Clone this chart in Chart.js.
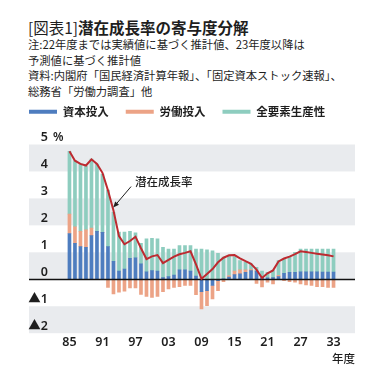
<!DOCTYPE html>
<html lang="ja">
<head>
<meta charset="utf-8">
<script src="https://cdn.jsdelivr.net/npm/chart.js@4.4.1/dist/chart.umd.min.js"></script>
<style>
  body { margin: 0; width: 383px; height: 378px; background: #fff; position: relative; overflow: hidden;
         font-family: "Noto Sans CJK JP", "Noto Sans", sans-serif; color: #1e1e1e; }
  #head { position: absolute; left: 28px; top: 17px; }
  h1 { margin: 0; font-size: 15.5px; line-height: 20px; font-weight: 700; }
  h1 span { font-weight: 400; }
  .note { font-size: 11.3px; line-height: 15.6px; }
  #wrap { position: absolute; left: 0; top: 83px; width: 383px; height: 295px; }
</style>
</head>
<body>
<div id="head">
  <h1><span>[図表1]</span>潜在成長率の寄与度分解</h1>
  <div class="note">注:22年度までは実績値に基づく推計値、23年度以降は<br>予測値に基づく推計値<br>資料:内閣府「国民経済計算年報」、「固定資本ストック速報」、<br>総務省「労働力調査」他</div>
</div>
<div id="wrap"><canvas id="chart"></canvas></div>
<script>
// 年度 (1985〜2033)
const years = [1985, 1986, 1987, 1988, 1989, 1990, 1991, 1992, 1993, 1994,
               1995, 1996, 1997, 1998, 1999, 2000, 2001, 2002, 2003, 2004,
               2005, 2006, 2007, 2008, 2009, 2010, 2011, 2012, 2013, 2014,
               2015, 2016, 2017, 2018, 2019, 2020, 2021, 2022, 2023, 2024,
               2025, 2026, 2027, 2028, 2029, 2030, 2031, 2032, 2033];

// 寄与度 (%)
const capital = [1.70, 1.33, 1.21, 1.19, 1.62, 1.78, 1.74, 1.21, 0.67, 0.30,
                 0.38, 0.78, 0.80, 0.57, 0.28, 0.32, 0.30, 0.06, 0.10, 0.16,
                 0.35, 0.35, 0.30, 0.12, -0.46, -0.42, -0.23, -0.05, 0.02, 0.08,
                 0.17, 0.20, 0.26, 0.32, 0.30, 0.05, 0.05, 0.06, 0.10, 0.22,
                 0.26, 0.26, 0.28, 0.28, 0.28, 0.28, 0.27, 0.27, 0.27];
const labor = [0.72, 0.62, 0.57, 0.64, 0.28, 0.00, 0.00, -0.30, -0.54, -0.48,
               -0.44, -0.32, -0.32, -0.56, -0.64, -0.67, -0.64, -0.46, -0.36, -0.30,
               -0.27, -0.23, -0.23, -0.57, -0.64, -0.56, -0.50, -0.37, -0.09, 0.06,
               0.13, 0.15, 0.09, 0.04, -0.15, -0.28, -0.11, -0.17, 0.05, -0.05,
               -0.09, -0.11, -0.17, -0.21, -0.23, -0.27, -0.27, -0.30, -0.30];
const tfp = [2.33, 2.45, 2.49, 2.37, 2.56, 2.49, 2.16, 2.10, 1.81, 1.45,
             1.37, 1.00, 0.92, 0.76, 1.22, 1.20, 1.20, 1.13, 1.02, 0.96,
             0.90, 0.90, 0.95, 1.00, 1.12, 1.09, 1.06, 0.96, 0.80, 0.74,
             0.54, 0.34, 0.28, 0.21, 0.14, 0.25, 0.21, 0.26, 0.54, 0.53,
             0.58, 0.74, 0.84, 0.84, 0.84, 0.84, 0.85, 0.85, 0.85];
// 潜在成長率 (%)
const potential = [4.75, 4.40, 4.28, 4.22, 4.45, 4.28, 3.95, 3.30, 2.55, 1.60,
                   1.30, 1.42, 1.58, 1.15, 0.75, 0.85, 0.90, 0.60, 0.72, 0.84,
                   0.93, 0.98, 1.04, 0.55, 0.02, 0.20, 0.38, 0.63, 0.80, 0.89,
                   0.90, 0.78, 0.67, 0.57, 0.36, 0.05, 0.22, 0.33, 0.66, 0.77,
                   0.84, 0.93, 1.04, 1.01, 0.98, 0.95, 0.92, 0.89, 0.85];

const xTicks = [1985, 1991, 1997, 2003, 2009, 2015, 2021, 2027, 2033];
const yTicks = [5, 4, 3, 2, 1, 0, -1, -2];
const grayBands = [[4, 5], [2, 3], [0, 1], [-2, -1]];

const INK = '#1e1e1e';
const NUM_FONT = '"Noto Sans", "Noto Sans CJK JP", sans-serif';
const JP_FONT = '"Noto Sans CJK JP", "Noto Sans", sans-serif';

const pts = arr => years.map((x, i) => ({ x: x, y: arr[i] }));

// 背景の灰色帯（目盛ラベルより先に描く）
const bandsPlugin = {
  id: 'bands',
  beforeDraw(chart) {
    const { ctx, chartArea, scales: { y } } = chart;
    const left = y.right - 19;
    ctx.save();
    ctx.fillStyle = '#e9ebee';
    grayBands.forEach(([lo, hi]) => {
      const top = y.getPixelForValue(hi);
      const bottom = y.getPixelForValue(lo);
      ctx.fillRect(left, top, chartArea.right - left, bottom - top);
    });
    ctx.restore();
  }
};

// 0の線（棒の上、折れ線の下）
const zeroPlugin = {
  id: 'zero',
  beforeDatasetDraw(chart, args) {
    if (args.index !== 3) return;
    const { ctx, chartArea, scales: { y } } = chart;
    const py = Math.round(y.getPixelForValue(0)) + 0.5;
    ctx.save();
    ctx.strokeStyle = '#111';
    ctx.lineWidth = 1.3;
    ctx.beginPath();
    ctx.moveTo(y.right - 19, py);
    ctx.lineTo(chartArea.right, py);
    ctx.stroke();
    ctx.restore();
  }
};

// 「%」と「潜在成長率」の注記
const notePlugin = {
  id: 'note',
  afterDraw(chart) {
    const { ctx, scales: { x, y } } = chart;
    ctx.save();
    ctx.fillStyle = INK;
    ctx.textBaseline = 'middle';
    ctx.font = '600 12px ' + NUM_FONT;
    ctx.fillText('%', y.right + 5, y.getPixelForValue(5) - 7);

    ctx.font = '500 11.5px ' + JP_FONT;
    ctx.fillText('潜在成長率', x.getPixelForValue(1996.9), y.getPixelForValue(3.64));

    const tx = x.getPixelForValue(1996.2), ty = y.getPixelForValue(3.44);
    const hx = x.getPixelForValue(1992.95), hy = y.getPixelForValue(2.66);
    const a = Math.atan2(hy - ty, hx - tx);
    ctx.strokeStyle = INK;
    ctx.lineWidth = 1;
    ctx.beginPath();
    ctx.moveTo(tx, ty);
    ctx.lineTo(hx - 4 * Math.cos(a), hy - 4 * Math.sin(a));
    ctx.stroke();
    ctx.beginPath();
    ctx.moveTo(hx, hy);
    ctx.lineTo(hx - 6 * Math.cos(a) + 2.5 * Math.sin(a), hy - 6 * Math.sin(a) - 2.5 * Math.cos(a));
    ctx.lineTo(hx - 6 * Math.cos(a) - 2.5 * Math.sin(a), hy - 6 * Math.sin(a) + 2.5 * Math.cos(a));
    ctx.closePath();
    ctx.fill();
    ctx.restore();
  }
};

new Chart(document.getElementById('chart'), {
  type: 'bar',
  data: {
    datasets: [
      { label: '資本投入', data: pts(capital), backgroundColor: '#4e7dbf', stack: 's', order: 1 },
      { label: '労働投入', data: pts(labor), backgroundColor: '#eca386', stack: 's', order: 1 },
      { label: '全要素生産性', data: pts(tfp), backgroundColor: '#8ecdbf', stack: 's', order: 1 },
      { type: 'line', label: '潜在成長率', data: pts(potential), borderColor: '#bd2a30',
        borderWidth: 2, pointRadius: 0, tension: 0, fill: false, stack: 'line', order: 0 }
    ]
  },
  options: {
    animation: false,
    responsive: true,
    maintainAspectRatio: false,
    layout: { padding: { left: 12, right: 28, top: 6, bottom: 12 } },
    datasets: { bar: { barThickness: 3, borderWidth: 0 } },
    scales: {
      x: {
        type: 'linear', min: 1981.1, max: 2036.9, offset: false, stacked: true,
        grid: { display: false, drawTicks: false }, border: { display: false },
        afterBuildTicks: s => { s.ticks = xTicks.map(v => ({ value: v })); },
        ticks: {
          callback: v => String(v).slice(2), autoSkip: false, maxRotation: 0,
          padding: 2, color: INK, font: { family: NUM_FONT, size: 12.5, weight: '600' }
        },
        title: {
          display: true, text: '年度', align: 'end', color: INK,
          padding: { top: 0, bottom: 0 }, font: { family: JP_FONT, size: 11.5, weight: '500' }
        }
      },
      y: {
        min: -2, max: 5, stacked: true,
        grid: { display: false, drawTicks: false }, border: { display: false },
        afterFit: s => { s.width = 36; },
        afterBuildTicks: s => { s.ticks = yTicks.map(v => ({ value: v })); },
        ticks: {
          callback: v => (v < 0 ? '▲' + (-v) : String(v)),
          labelOffset: -7, padding: 0, color: INK,
          font: { family: NUM_FONT, size: 12.5, weight: '600' }
        }
      }
    },
    plugins: {
      legend: {
        align: 'start',
        weight: 3000,
        labels: {
          filter: item => item.datasetIndex < 3,
          boxWidth: 28, boxHeight: 4, padding: 17, color: INK,
          font: { family: JP_FONT, size: 11.5, weight: '600' }
        }
      },
      // 凡例と作図領域の間の空き
      title: { display: true, text: '', font: { size: 10, lineHeight: 1 }, padding: { top: 0, bottom: 7 } },
      tooltip: { enabled: false }
    }
  },
  plugins: [bandsPlugin, zeroPlugin, notePlugin]
});
</script>
</body>
</html>
